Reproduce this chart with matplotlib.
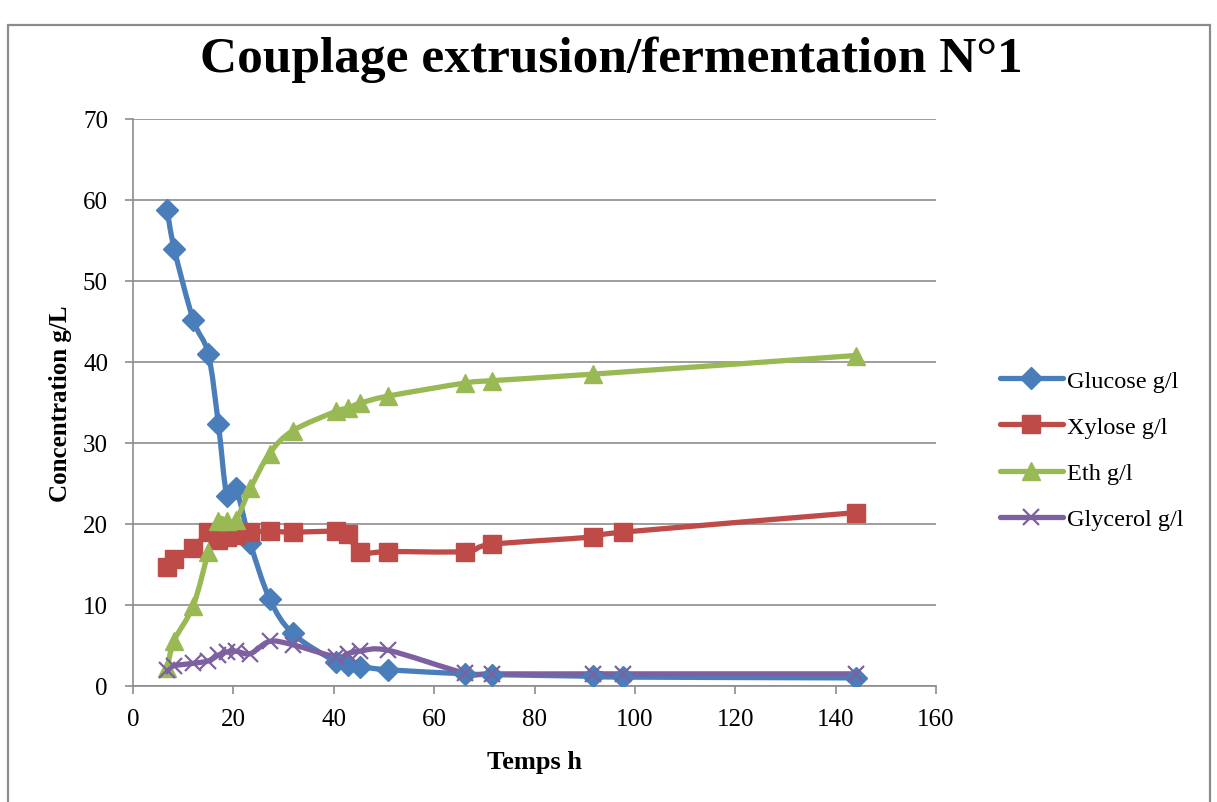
import numpy as np
import matplotlib
matplotlib.use("Agg")
import matplotlib.pyplot as plt
from matplotlib.path import Path
from matplotlib.patches import PathPatch, Rectangle
from matplotlib.lines import Line2D

plt.rcParams['font.family'] = ['Liberation Serif', 'DejaVu Serif']

time_h = [6.8, 8.2, 12.0, 15.0, 17.0, 18.7, 20.5, 23.4, 27.2, 31.8,
          40.4, 42.8, 45.2, 50.9, 66.1, 71.6, 91.6, 97.7, 144.0]
glucose = [58.8, 54.0, 45.2, 41.0, 32.4, 23.5, 24.4, 17.6, 10.8, 6.5,
           3.0, 2.6, 2.4, 2.0, 1.5, 1.4, 1.2, 1.1, 1.0]
xylose = [14.7, 15.7, 17.0, 19.0, 18.0, 18.4, 18.7, 19.0, 19.1, 19.0,
          19.1, 18.8, 16.5, 16.6, 16.6, 17.5, 18.4, 19.0, 21.4]
eth_time = [6.8, 8.2, 12.0, 15.0, 17.0, 18.7, 20.5, 23.4, 27.2, 31.8,
            40.4, 42.8, 45.2, 50.9, 66.1, 71.6, 91.6, 144.0]
eth = [2.2, 5.6, 9.9, 16.5, 20.4, 20.4, 20.5, 24.4, 28.7, 31.5,
       33.9, 34.3, 34.9, 35.8, 37.4, 37.7, 38.5, 40.8]
glycerol = [2.0, 2.5, 2.8, 3.1, 3.8, 4.2, 4.3, 4.0, 5.5, 5.1,
            3.6, 4.0, 4.3, 4.4, 1.6, 1.5, 1.5, 1.5, 1.5]

series = [
    ("Glucose g/l", time_h, glucose, "#4A7EBB", "D", 11, {}),
    ("Xylose g/l", time_h, xylose, "#BE4B48", "s", 12.5, {}),
    ("Eth g/l", eth_time, eth, "#98B954", "^", 13.5, {}),
    ("Glycerol g/l", time_h, glycerol, "#7D60A0", "x", 12, {"markeredgewidth": 1.6}),
]

W, H = 1217, 803
fig = plt.figure(figsize=(W / 100, H / 100), dpi=100)
fig.patches.append(Rectangle((8 / W, -0.01), (1210 - 8) / W, (H - 26) / H + 0.01,
                             transform=fig.transFigure, fill=False,
                             edgecolor="#8C8C8C", linewidth=1.6))

ax = fig.add_axes([133 / W, (H - 687) / H, (936 - 133) / W, (687 - 120) / H])


def smooth_path(x, y):
    p = np.column_stack([x, y]).astype(float)
    n = len(p)
    verts = [p[0]]
    codes = [Path.MOVETO]
    for i in range(n - 1):
        p0 = p[i - 1] if i > 0 else p[i]
        p1 = p[i]
        p2 = p[i + 1]
        p3 = p[i + 2] if i + 2 < n else p[i + 1]
        c1 = p1 + (p2 - p0) / 6.0
        c2 = p2 - (p3 - p1) / 6.0
        verts += [c1, c2, p2]
        codes += [Path.CURVE4] * 3
    return Path(verts, codes)


handles = []
for name, xs, ys, col, mk, ms, kw in series:
    patch = PathPatch(smooth_path(xs, ys), facecolor="none", edgecolor=col,
                      linewidth=3.8, capstyle="round", joinstyle="round", zorder=3)
    ax.add_patch(patch)
for name, xs, ys, col, mk, ms, kw in series:
    ax.plot(xs, ys, linestyle="none", marker=mk, markersize=ms, color=col,
            markeredgecolor=col, zorder=4, **kw)
    handles.append(Line2D([0], [0], color=col, linewidth=3.8, marker=mk,
                          markersize=ms, markeredgecolor=col,
                          solid_capstyle="round", **kw))

ax.set_xlim(0, 160)
ax.set_ylim(0, 70)
ax.set_xticks(np.arange(0, 161, 20))
ax.set_yticks(np.arange(0, 71, 10))
ax.grid(axis="y", color="#8C8C8C", linewidth=1.2)
ax.set_axisbelow(True)
for s in ["top", "right"]:
    ax.spines[s].set_visible(False)
for s in ["left", "bottom"]:
    ax.spines[s].set_color("#8C8C8C")
    ax.spines[s].set_linewidth(1.2)
ax.tick_params(axis="both", colors="#8C8C8C", labelcolor="black", labelsize=18,
               length=6, width=1.2)
ax.tick_params(axis="x", pad=10)
ax.tick_params(axis="y", pad=12)

ax.set_xlabel("Temps h", fontsize=19, fontweight="bold", labelpad=14)
ax.set_ylabel("Concentration g/L", fontsize=18, fontweight="bold", labelpad=8)

fig.text((197 + 1025) / 2 / W, (H - 60) / H, "Couplage extrusion/fermentation N°1",
         ha="center", va="center", fontsize=37, fontweight="bold")

leg = fig.legend(handles, [s[0] for s in series], loc="center left",
                 bbox_to_anchor=(978 / W, (H - 451) / H), frameon=False,
                 fontsize=17.5, handlelength=2.6, labelspacing=1.0,
                 handletextpad=0.15)

fig.savefig("out.png", dpi=100)
